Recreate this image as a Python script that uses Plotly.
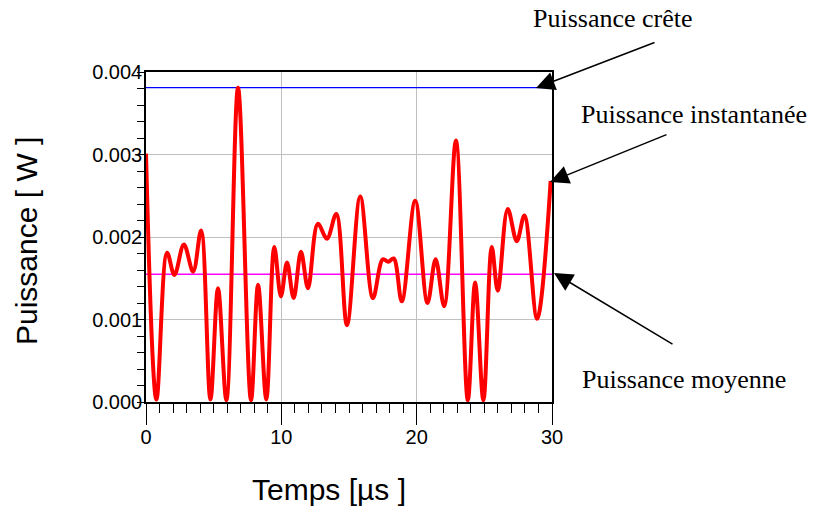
import plotly.graph_objects as go

# --- data ---
temps_us = [0, 0.77, 1.56, 2.1, 2.8, 3.48, 4.07, 4.76, 5.32, 5.94, 6.8, 7.76, 8.28, 8.89,
            9.48, 9.97, 10.42, 10.91, 11.45, 11.97, 12.7, 13.37, 14.06, 14.85, 15.83, 16.77,
            17.5, 17.9, 18.3, 18.9, 19.89, 20.8, 21.4, 22.03, 22.9, 23.78, 24.32, 24.93,
            25.55, 25.99, 26.73, 27.4, 27.96, 28.9, 29.9]
puissance_W = [0.00301, 0.00003, 0.00181, 0.00154, 0.00191, 0.00158, 0.00208, 0.00003,
               0.00138, 0.00002, 0.00381, 0.00002, 0.00142, 0.00003, 0.00188, 0.00128,
               0.00169, 0.00126, 0.00182, 0.00138, 0.00216, 0.00198, 0.00228, 0.00093,
               0.00249, 0.00126, 0.00173, 0.00170, 0.00174, 0.00122, 0.00244, 0.00120,
               0.00173, 0.00116, 0.00317, 0.00002, 0.00145, 0.00002, 0.00188, 0.00135,
               0.00234, 0.00195, 0.00226, 0.00101, 0.00268]
puissance_crete = 0.00381
puissance_moyenne = 0.00155
x_span = [0, 30]

labels = {
    "crete": "Puissance crête",
    "inst": "Puissance instantanée",
    "moy": "Puissance moyenne",
    "xtitle": "Temps [µs ]",
    "ytitle": "Puissance [ W ]",
}

fig = go.Figure()
fig.add_trace(go.Scatter(x=x_span, y=[puissance_crete] * 2, mode="lines",
                         line=dict(color="#0000ff", width=1.2), hoverinfo="skip"))
fig.add_trace(go.Scatter(x=x_span, y=[puissance_moyenne] * 2, mode="lines",
                         line=dict(color="#ff00ff", width=1.5), hoverinfo="skip"))
fig.add_trace(go.Scatter(x=temps_us, y=puissance_W, mode="lines",
                         line=dict(color="#ff0000", width=4, shape="spline", smoothing=1)))

L, R, T, B = 146, 263, 72, 110
W, H = 815, 512
pw, ph = W - L - R, H - T - B

def px(xpix):
    return (xpix - L) / pw

def py(ypix):
    return (H - B - ypix) / ph

sans = "Liberation Sans, Arial, sans-serif"
serif = "Liberation Serif, Times New Roman, serif"

annotations = []
# arrows
for tip, tail in [((536, 88), (656, 42)), ((550, 182), (668, 134)), ((554, 273), (674, 345))]:
    annotations.append(dict(xref="paper", yref="paper", x=px(tip[0]), y=py(tip[1]),
                            ax=tail[0] - tip[0], ay=tail[1] - tip[1], text="",
                            showarrow=True, arrowhead=2, arrowsize=2.5, arrowwidth=1.5,
                            arrowcolor="black"))
# texts
for key, cx, cy in [("crete", 612.5, 18), ("inst", 694, 115), ("moy", 684, 379)]:
    annotations.append(dict(xref="paper", yref="paper", x=px(cx), y=py(cy), text=labels[key],
                            showarrow=False, xanchor="center", yanchor="middle",
                            font=dict(family=serif, size=26, color="black")))
annotations.append(dict(xref="paper", yref="paper", x=px(329), y=py(489), text=labels["xtitle"],
                        showarrow=False, xanchor="center", yanchor="middle",
                        font=dict(family=sans, size=30, color="black")))
annotations.append(dict(xref="paper", yref="paper", x=px(26), y=py(241), text=labels["ytitle"],
                        showarrow=False, xanchor="center", yanchor="middle", textangle=-90,
                        font=dict(family=sans, size=30, color="black")))

fig.update_layout(
    width=W, height=H, margin=dict(l=L, r=R, t=T, b=B),
    paper_bgcolor="white", plot_bgcolor="white", showlegend=False,
    annotations=annotations,
    xaxis=dict(range=[0, 30], tickvals=[0, 10, 20, 30], ticks="outside", ticklen=21,
               tickwidth=1, tickcolor="black", ticklabelstandoff=-5,
               minor=dict(dtick=1, ticks="outside", ticklen=9, tickcolor="black", showgrid=False),
               showgrid=True, gridcolor="#c0c0c0", gridwidth=1,
               showline=True, linecolor="black", linewidth=1.5, mirror=True, zeroline=False,
               tickfont=dict(family=sans, size=20, color="black")),
    yaxis=dict(range=[0, 0.004], tickvals=[0, 0.001, 0.002, 0.003, 0.004], tickformat=".3f",
               ticks="outside", ticklen=7, tickwidth=1, tickcolor="black", ticklabelstandoff=-9,
               minor=dict(dtick=0.0002, ticks="outside", ticklen=7, tickcolor="black", showgrid=False),
               showgrid=True, gridcolor="#c0c0c0", gridwidth=1,
               showline=True, linecolor="black", linewidth=1.5, mirror=True, zeroline=False,
               tickfont=dict(family=sans, size=20, color="black")),
)

fig.write_html("out.html")
